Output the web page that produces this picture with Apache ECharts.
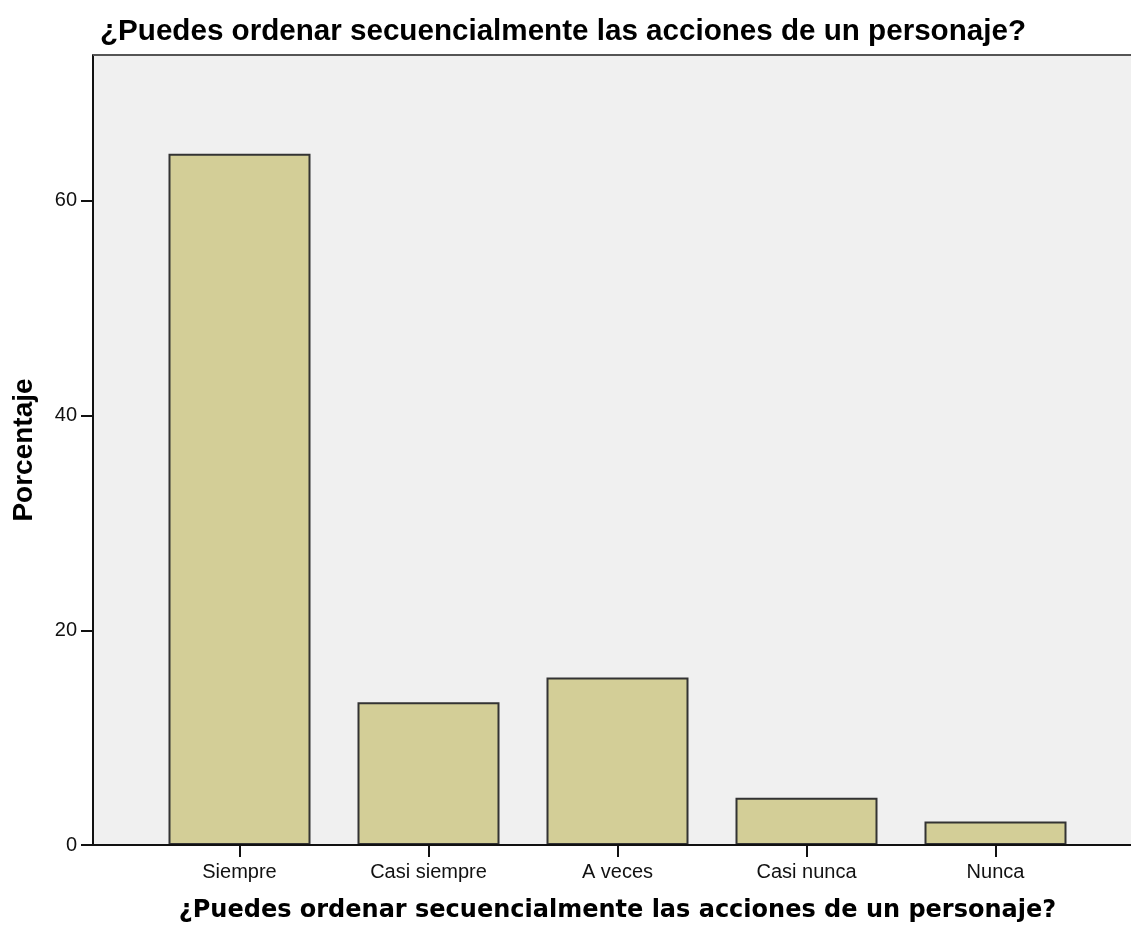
<!DOCTYPE html>
<html lang="es">
<head>
    <meta charset="UTF-8">
    <title>Porcentaje</title>
    <style>
        html, body { margin: 0; padding: 0; background: #fff; }
        #main { width: 1131px; height: 931px; }
    </style>
</head>
<body>
<div id="main"></div>
<script src="https://cdn.jsdelivr.net/npm/echarts@6/dist/echarts.min.js"></script>
<script>
    var titulo = '¿Puedes ordenar secuencialmente las acciones de un personaje?';
    var categorias = ['Siempre', 'Casi siempre', 'A veces', 'Casi nunca', 'Nunca'];
    var porcentajes = [64.4, 13.3, 15.6, 4.4, 2.2];
    var ticksY = [0, 20, 40, 60];

    var chart = echarts.init(document.getElementById('main'));

    // marco del grafico (SPSS deja margen a los lados de las barras)
    var frameLeft = 93, frameTop = 55, frameBottom = 845;

    var option = {
        animation: false,
        title: {
            text: titulo,
            left: 95,
            top: 12,
            textStyle: {
                fontFamily: 'Liberation Sans',
                fontSize: 29.6,
                fontWeight: 'bold',
                color: '#000'
            }
        },
        grid: {
            left: 145,
            right: 41,
            top: frameTop,
            bottom: 931 - frameBottom,
            outerBoundsMode: 'none',
            containLabel: false
        },
        graphic: [
            {
                type: 'rect',
                z: -100,
                shape: {x: frameLeft, y: frameTop, width: 1131 - frameLeft, height: frameBottom - frameTop},
                style: {fill: '#f0f0f0'}
            },
            {
                type: 'line',
                z: 100,
                shape: {x1: frameLeft, y1: frameTop, x2: 1131, y2: frameTop},
                style: {stroke: '#555', lineWidth: 2}
            },
            {
                type: 'line',
                z: 100,
                shape: {x1: frameLeft, y1: frameBottom, x2: 1131, y2: frameBottom},
                style: {stroke: '#111', lineWidth: 2}
            }
        ],
        xAxis: {
            type: 'category',
            data: categorias,
            name: titulo,
            nameLocation: 'middle',
            nameGap: 54,
            nameTextStyle: {
                fontFamily: 'DejaVu Sans',
                fontSize: 24,
                fontWeight: 'bold',
                color: '#000'
            },
            axisLine: {show: false},
            axisTick: {
                show: true,
                alignWithLabel: true,
                length: 12,
                lineStyle: {color: '#111', width: 2}
            },
            axisLabel: {
                margin: 17,
                fontFamily: 'Liberation Sans',
                fontSize: 20,
                color: '#111'
            },
            splitLine: {show: false}
        },
        yAxis: {
            type: 'value',
            min: 0,
            max: 73.6,
            interval: 20,
            offset: 52,
            name: 'Porcentaje',
            nameLocation: 'middle',
            nameRotate: 90,
            nameGap: 55,
            nameTextStyle: {
                fontFamily: 'Liberation Sans',
                fontSize: 28,
                fontWeight: 'bold',
                color: '#000'
            },
            axisLine: {show: true, lineStyle: {color: '#111', width: 2}},
            axisTick: {
                show: true,
                length: 12,
                customValues: ticksY,
                lineStyle: {color: '#111', width: 2}
            },
            axisLabel: {
                margin: 16,
                customValues: ticksY,
                fontFamily: 'Liberation Sans',
                fontSize: 20,
                color: '#111'
            },
            splitLine: {show: false}
        },
        series: [
            {
                type: 'bar',
                data: porcentajes,
                barWidth: 142,
                itemStyle: {
                    color: '#d3ce97',
                    borderColor: '#333',
                    borderWidth: 2
                }
            }
        ]
    };

    chart.setOption(option);
</script>
</body>
</html>
